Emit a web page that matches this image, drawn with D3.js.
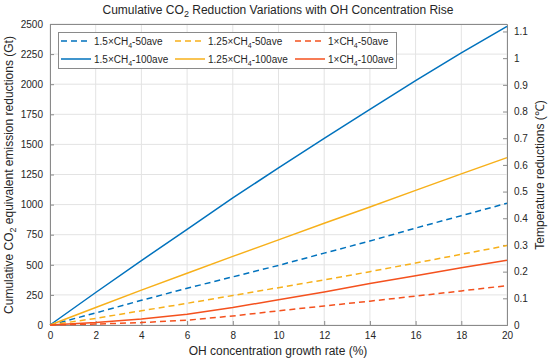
<!DOCTYPE html>
<html>
<head>
<meta charset="utf-8">
<script src="https://cdn.jsdelivr.net/npm/d3@7"></script>
<style>
  body { margin: 0; background: #fff; }
  svg { font-family: "Liberation Sans", Arial, sans-serif; }
</style>
</head>
<body>
<svg id="chart"></svg>
<script>
// OH concentration growth rate (%)
const rates = [0, 2, 4, 6, 8, 10, 12, 14, 16, 18, 20];

// cumulative CO2-eq reductions (Gt)
const ch4_150_50 = [0, 100, 205, 305, 400, 495, 597, 697, 805, 908, 1011];
const ch4_125_50 = [0, 55, 118, 180, 245, 310, 375, 443, 515, 587, 660];
const ch4_100_50 = [0, 8, 20, 40, 75, 118, 158, 198, 240, 283, 327];
const ch4_150_100 = [0, 270, 535, 795, 1055, 1305, 1550, 1790, 2030, 2260, 2480];
const ch4_125_100 = [0, 145, 290, 430, 570, 707, 845, 980, 1118, 1255, 1390];
const ch4_100_100 = [0, 20, 50, 90, 145, 210, 275, 345, 410, 475, 537];

const xTicks = [0, 2, 4, 6, 8, 10, 12, 14, 16, 18, 20];
const yTicks = [0, 250, 500, 750, 1000, 1250, 1500, 1750, 2000, 2250, 2500];
const tempTicks = [0, 0.1, 0.2, 0.3, 0.4, 0.5, 0.6, 0.7, 0.8, 0.9, 1, 1.1];

const series = [
  { coef: "1.5", avg: "50", values: ch4_150_50, color: "#0072BD", dash: true },
  { coef: "1.25", avg: "50", values: ch4_125_50, color: "#F7B01A", dash: true },
  { coef: "1", avg: "50", values: ch4_100_50, color: "#F4511E", dash: true },
  { coef: "1.5", avg: "100", values: ch4_150_100, color: "#0072BD", dash: false },
  { coef: "1.25", avg: "100", values: ch4_125_100, color: "#F7B01A", dash: false },
  { coef: "1", avg: "100", values: ch4_100_100, color: "#F4511E", dash: false }
];

const width = 550;
const height = 362;
const m = { left: 50, right: 507, top: 24, bottom: 325 };

const svg = d3.select("#chart").attr("width", width).attr("height", height);

const xScale = d3.scaleLinear().domain([0, 20]).range([m.left, m.right]);
const yScale = d3.scaleLinear().domain([0, 2500]).range([m.bottom, m.top]);
const tScale = d3.scaleLinear().domain([0, 1.128]).range([m.bottom, m.top]);

// grid
svg.append("g")
  .selectAll("line")
  .data(xTicks)
  .enter()
  .append("line")
  .attr("x1", (d) => xScale(d)).attr("x2", (d) => xScale(d))
  .attr("y1", m.top).attr("y2", m.bottom)
  .attr("stroke", "#e3e3e3").attr("stroke-width", 1);

svg.append("g")
  .selectAll("line")
  .data(yTicks)
  .enter()
  .append("line")
  .attr("x1", m.left).attr("x2", m.right)
  .attr("y1", (d) => yScale(d)).attr("y2", (d) => yScale(d))
  .attr("stroke", "#e3e3e3").attr("stroke-width", 1);

// top border
svg.append("line")
  .attr("x1", m.left).attr("x2", m.right)
  .attr("y1", m.top + 0.5).attr("y2", m.top + 0.5)
  .attr("stroke", "#8a8a8a");

const xAxis = d3.axisBottom(xScale).tickValues(xTicks).tickSize(-4).tickPadding(7).tickFormat(d3.format("d"));
const yAxis = d3.axisLeft(yScale).tickValues(yTicks).tickSize(-4).tickPadding(7).tickFormat(d3.format("d"));
const tAxis = d3.axisRight(tScale).tickValues(tempTicks).tickSize(-4).tickPadding(7).tickFormat((d) => d3.format("~g")(d));

svg.append("g").attr("transform", `translate(0, ${m.bottom})`).call(xAxis);
svg.append("g").attr("transform", `translate(${m.left}, 0)`).call(yAxis);
svg.append("g").attr("transform", `translate(${m.right}, 0)`).call(tAxis);

svg.selectAll(".domain").attr("stroke", "#8a8a8a");
svg.selectAll(".tick line").attr("stroke", "#8a8a8a");
svg.selectAll(".tick text").attr("fill", "#262626").style("font-size", "10px");

// lines
const line = d3.line()
  .x((d, i) => xScale(rates[i]))
  .y((d) => yScale(d));

svg.append("g")
  .selectAll("path")
  .data(series)
  .enter()
  .append("path")
  .attr("d", (d) => line(d.values))
  .attr("fill", "none")
  .attr("stroke", (d) => d.color)
  .attr("stroke-width", 1.5)
  .attr("stroke-dasharray", (d) => (d.dash ? "6,4" : null));

// legend
const legend = svg.append("g");
legend.append("rect")
  .attr("x", 58.5).attr("y", 32.5)
  .attr("width", 338).attr("height", 36)
  .attr("fill", "#fff").attr("stroke", "#8a8a8a");

const colX = [61, 175, 295];
const rowY = [41, 59];

series.forEach((s, i) => {
  const cx = colX[i % 3];
  const cy = rowY[Math.floor(i / 3)];
  legend.append("line")
    .attr("x1", cx).attr("x2", cx + 30)
    .attr("y1", cy).attr("y2", cy)
    .attr("stroke", s.color).attr("stroke-width", 1.5)
    .attr("stroke-dasharray", s.dash ? "6,4" : null);
  const t = legend.append("text")
    .attr("x", cx + 33).attr("y", cy + 3.5)
    .attr("fill", "#262626").style("font-size", "10px");
  t.append("tspan").text(`${s.coef}×CH`);
  t.append("tspan").attr("dy", 3).style("font-size", "7px").text("4");
  t.append("tspan").attr("dy", -3).text(`-${s.avg}ave`);
});

// title
const title = svg.append("text")
  .attr("x", 278).attr("y", 14)
  .attr("text-anchor", "middle")
  .attr("fill", "#262626").style("font-size", "12px");
title.append("tspan").text("Cumulative CO");
title.append("tspan").attr("dy", 3).style("font-size", "9px").text("2");
title.append("tspan").attr("dy", -3).text(" Reduction Variations with OH Concentration Rise");

// axis labels
svg.append("text")
  .attr("x", 278).attr("y", 355)
  .attr("text-anchor", "middle")
  .attr("fill", "#262626").style("font-size", "12px")
  .text("OH concentration growth rate (%)");

const yl = svg.append("text")
  .attr("transform", "translate(13, 175) rotate(-90)")
  .attr("text-anchor", "middle")
  .attr("fill", "#262626").style("font-size", "12px");
yl.append("tspan").text("Cumulative CO");
yl.append("tspan").attr("dy", 3).style("font-size", "9px").text("2");
yl.append("tspan").attr("dy", -3).text(" equivalent emission reductions (Gt)");

svg.append("text")
  .attr("transform", "translate(544, 175) rotate(-90)")
  .attr("text-anchor", "middle")
  .attr("fill", "#262626").style("font-size", "12px")
  .text("Temperature reductions (℃)");
</script>
</body>
</html>
